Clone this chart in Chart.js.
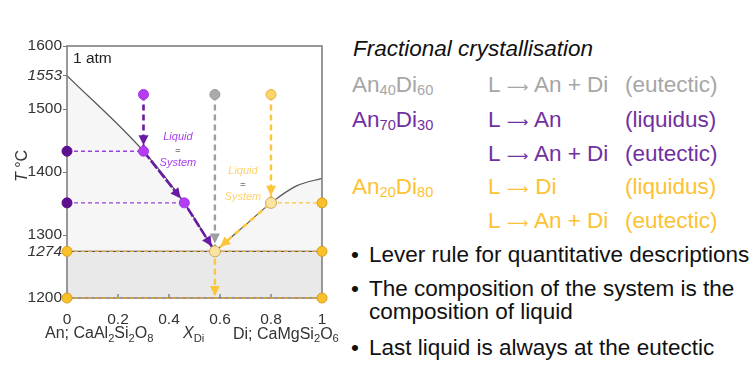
<!DOCTYPE html>
<html>
<head>
<meta charset="utf-8">
<script src="https://cdn.jsdelivr.net/npm/chart.js@4.4.0/dist/chart.umd.min.js"></script>
<style>
  html, body { margin: 0; padding: 0; background: #fff; }
  body { width: 750px; height: 377px; overflow: hidden; position: relative; font-family: "Liberation Sans", Arial, sans-serif; }
  #phase { position: absolute; left: 0; top: 0; }
  .ln { position: absolute; font-size: 22.5px; line-height: 26px; white-space: nowrap; }
  sub { font-size: 0.65em; vertical-align: -0.22em; line-height: 0; }
  .arr { display: inline-block; width: 23px; text-align: center; font-family: "DejaVu Sans", sans-serif; font-size: 15px; overflow: visible; }
  .gray { color: #a6a6a6; }
  .purple { color: #7030a0; }
  .gold { color: #fdc232; }
  .dark { color: #111; }
</style>
</head>
<body>
<canvas id="phase" width="345" height="377"></canvas>

<div class="ln dark" style="left:353px; top:36px; font-style:italic;">Fractional crystallisation</div>

<div class="ln gray" style="left:352px; top:72px;">An<sub>40</sub>Di<sub>60</sub></div>
<div class="ln gray" style="left:488px; top:72px;">L <span class="arr">⟶</span> An + Di</div>
<div class="ln gray" style="left:625px; top:72px;">(eutectic)</div>

<div class="ln purple" style="left:352px; top:107px;">An<sub>70</sub>Di<sub>30</sub></div>
<div class="ln purple" style="left:488px; top:107px;">L <span class="arr">⟶</span> An</div>
<div class="ln purple" style="left:625px; top:107px;">(liquidus)</div>
<div class="ln purple" style="left:488px; top:141px;">L <span class="arr">⟶</span> An + Di</div>
<div class="ln purple" style="left:625px; top:141px;">(eutectic)</div>

<div class="ln gold" style="left:352px; top:174px;">An<sub>20</sub>Di<sub>80</sub></div>
<div class="ln gold" style="left:488px; top:174px;">L <span class="arr">⟶</span> Di</div>
<div class="ln gold" style="left:625px; top:174px;">(liquidus)</div>
<div class="ln gold" style="left:488px; top:208px;">L <span class="arr">⟶</span> An + Di</div>
<div class="ln gold" style="left:625px; top:208px;">(eutectic)</div>

<div class="ln dark" style="left:351px; top:242px;">•</div>
<div class="ln dark" style="left:369px; top:242px;">Lever rule for quantitative descriptions</div>
<div class="ln dark" style="left:351px; top:276px;">•</div>
<div class="ln dark" style="left:369px; top:276px;">The composition of the system is the</div>
<div class="ln dark" style="left:369px; top:299px;">composition of liquid</div>
<div class="ln dark" style="left:351px; top:335px;">•</div>
<div class="ln dark" style="left:369px; top:335px;">Last liquid is always at the eutectic</div>

<script>
const xTicks = [0, 0.2, 0.4, 0.6, 0.8, 1];
const yTicks = [1200, 1274, 1300, 1400, 1500, 1553, 1600];
const italicTicks = [1274, 1553];

// liquidus curves (X_Di, T)
const anLiqX = [0, 0.3, 0.46, 0.58];
const anLiqT = [1553, 1433, 1351, 1274];
const diLiqX = [0.58, 0.7, 0.8, 0.9, 1];
const diLiqT = [1274, 1316, 1351, 1378, 1390];
const eutecticT = 1274;

// cooling paths
const purpleX = [0.3, 0.3, 0.46, 0.58];
const purpleT = [1523, 1433, 1351, 1274];
const grayX = [0.58, 0.58];
const grayT = [1523, 1274];
const goldX = [0.8, 0.8, 0.58, 0.58];
const goldT = [1523, 1351, 1274, 1200];

// tie lines out to the axes
const purpleTieX = [0.3, 0.46];
const purpleTieT = [1433, 1351];
const goldTieX0 = [0.8, 0, 0];
const goldTieT = [1351, 1274, 1200];

// text labels on the plot
const labelPurple = { x: 0.435, t: 1433 };
const labelGold = { x: 0.69, t: 1379 };

const FONT = '"Liberation Sans", Arial, sans-serif';
const pts = (xs, ys) => xs.map((x, i) => ({ x: x, y: ys[i] }));

function dots(data, bg, border, r) {
  return { data: data, showLine: false, pointRadius: r || 5, pointBackgroundColor: bg,
           pointBorderColor: border || bg, pointBorderWidth: 1, clip: false };
}
function line(data, color, width, dash, extra) {
  return Object.assign({ data: data, showLine: true, pointRadius: 0, borderColor: color,
           borderWidth: width, borderDash: dash || [], fill: false, clip: false }, extra || {});
}

const datasets = [];
// dots (top-most)
datasets.push(dots([{ x: goldX[1], y: goldT[1] }, { x: goldX[2], y: goldT[2] }], '#fbe3a0', '#c9ab62', 5.5));
datasets.push(dots(goldTieT.flatMap((t, i) => goldTieX0[i] === 0 ? [{ x: 0, y: t }, { x: 1, y: t }] : [{ x: 1, y: t }]), '#f9c02a', '#d89f1c'));
datasets.push(dots([{ x: goldX[0], y: goldT[0] }], '#fdd56a', '#e0b23c'));
datasets.push(dots([{ x: grayX[0], y: grayT[0] }], '#ababab', '#999999'));
datasets.push(dots(pts(purpleX.slice(0, 3), purpleT.slice(0, 3)), '#b43cf5', '#a533e6'));
datasets.push(dots(purpleTieT.map(t => ({ x: 0, y: t })), '#5c0f8e'));

// cooling paths with arrows
datasets.push(line(pts(purpleX, purpleT), '#6a1aa2', 2.6, [10, 2], {
  segment: { borderDash: c => c.p0DataIndex === 0 ? [6, 4] : undefined },
  arrowGaps: [6, 6, 6]
}));
datasets.push(line(pts(grayX, grayT), '#9e9e9e', 2.4, [6, 4], { arrowGaps: [8] }));
datasets.push(line(pts(goldX, goldT), '#fcc53a', 2.4, [6, 4], { arrowGaps: [7, 7, 2] }));

// tie lines
purpleTieT.forEach((t, i) => datasets.push(line([{ x: 0, y: t }, { x: purpleTieX[i], y: t }], '#9b40d8', 1.4, [4, 3])));
goldTieT.forEach((t, i) => datasets.push(line([{ x: goldTieX0[i], y: t }, { x: 1, y: t }], i === 0 ? '#f9c73d' : '#e0a53c', 1.4, [4, 3])));

// eutectic band and liquidus fields (bottom-most)
datasets.push(line([{ x: 0, y: eutecticT }, { x: 1, y: eutecticT }], '#5a5a5a', 1.3, [], {
  fill: 'start', backgroundColor: '#e9e9e9', clip: undefined, drawFrame: true
}));
datasets.push(line(pts(diLiqX, diLiqT), '#555555', 1.2, [], {
  fill: 'start', backgroundColor: '#f6f6f6', cubicInterpolationMode: 'monotone', clip: undefined
}));
datasets.push(line(pts(anLiqX, anLiqT), '#555555', 1.2, [], {
  fill: 'start', backgroundColor: '#f6f6f6', cubicInterpolationMode: 'monotone', clip: undefined
}));

const arrowHeads = {
  id: 'arrowHeads',
  afterDatasetDraw(chart, args) {
    const ds = chart.data.datasets[args.index];
    const ctx = chart.ctx;
    if (ds.drawFrame) {
      const a = chart.chartArea;
      ctx.save();
      ctx.strokeStyle = '#808080';
      ctx.lineWidth = 1.6;
      ctx.strokeRect(a.left, a.top, a.right - a.left, a.bottom - a.top);
      ctx.strokeStyle = '#555';
      ctx.lineWidth = 1;
      xTicks.slice(1, -1).forEach(v => {
        const px = chart.scales.x.getPixelForValue(v);
        ctx.beginPath(); ctx.moveTo(px, a.bottom); ctx.lineTo(px, a.bottom - 4); ctx.stroke();
      });
      ctx.restore();
    }
    if (!ds.arrowGaps) return;
    const p = args.meta.data;
    ctx.save();
    ctx.fillStyle = ds.borderColor;
    for (let i = 1; i < p.length; i++) {
      const gap = ds.arrowGaps[i - 1];
      if (gap == null) continue;
      const dx = p[i].x - p[i - 1].x, dy = p[i].y - p[i - 1].y;
      const len = Math.hypot(dx, dy);
      const ux = dx / len, uy = dy / len;
      const tx = p[i].x - ux * gap, ty = p[i].y - uy * gap;
      const L = 10, W = 5;
      ctx.beginPath();
      ctx.moveTo(tx, ty);
      ctx.lineTo(tx - ux * L - uy * W, ty - uy * L + ux * W);
      ctx.lineTo(tx - ux * L + uy * W, ty - uy * L - ux * W);
      ctx.closePath();
      ctx.fill();
    }
    ctx.restore();
  }
};

function richText(ctx, runs, x, y, size, align) {
  const fontOf = k => (k.includes('i') ? 'italic ' : '') + (k.includes('s') ? size * 0.7 : size) + 'px ' + FONT;
  let w = 0;
  runs.forEach(r => { ctx.font = fontOf(r[1]); w += ctx.measureText(r[0]).width; });
  let cx = align === 'center' ? x - w / 2 : x;
  ctx.textAlign = 'left';
  ctx.textBaseline = 'alphabetic';
  runs.forEach(r => {
    ctx.font = fontOf(r[1]);
    ctx.fillText(r[0], cx, r[1].includes('s') ? y + size * 0.22 : y);
    cx += ctx.measureText(r[0]).width;
  });
}

function liquidLabel(ctx, chart, lab, color) {
  const x = chart.scales.x.getPixelForValue(lab.x);
  const y = chart.scales.y.getPixelForValue(lab.t);
  ctx.fillStyle = color;
  ctx.font = 'italic 11px ' + FONT;
  ctx.textAlign = 'center';
  ctx.textBaseline = 'middle';
  ctx.fillText('Liquid', x, y - 14);
  ctx.fillText('System', x, y + 12);
  ctx.fillStyle = '#8a8a8a';
  ctx.font = 'bold 9px ' + FONT;
  ctx.fillText('=', x, y);
}

const plotText = {
  id: 'plotText',
  afterDraw(chart) {
    const ctx = chart.ctx;
    ctx.save();
    ctx.fillStyle = '#222';
    richText(ctx, [['1 atm', '']], 73, 63, 15.5, 'left');
    liquidLabel(ctx, chart, labelPurple, '#a63ff0');
    liquidLabel(ctx, chart, labelGold, '#fdd36e');
    ctx.fillStyle = '#333';
    richText(ctx, [['An; CaAl', ''], ['2', 's'], ['Si', ''], ['2', 's'], ['O', ''], ['8', 's']], 45, 338, 16, 'left');
    richText(ctx, [['X', 'i'], ['Di', 's']], 183, 338, 16, 'left');
    richText(ctx, [['Di; CaMgSi', ''], ['2', 's'], ['O', ''], ['6', 's']], 233, 338.5, 16, 'left');
    ctx.translate(27, 166);
    ctx.rotate(-Math.PI / 2);
    richText(ctx, [['T', 'i'], [' °C', '']], 0, 0, 16, 'center');
    ctx.restore();
  }
};

new Chart(document.getElementById('phase'), {
  type: 'scatter',
  data: { datasets: datasets },
  plugins: [arrowHeads, plotText],
  options: {
    responsive: false,
    animation: false,
    events: [],
    layout: { padding: { top: 46, right: 23, left: 0, bottom: 0 } },
    plugins: { legend: { display: false }, tooltip: { enabled: false } },
    scales: {
      x: {
        type: 'linear', min: 0, max: 1,
        afterBuildTicks: s => { s.ticks = xTicks.map(v => ({ value: v })); },
        afterFit: s => { s.height = 79; },
        grid: { display: false },
        border: { display: false },
        ticks: { callback: v => String(v), color: '#333', font: { family: FONT, size: 15.5 }, padding: 4, maxRotation: 0, autoSkip: false }
      },
      y: {
        type: 'linear', min: 1200, max: 1600,
        afterBuildTicks: s => { s.ticks = yTicks.map(v => ({ value: v })); },
        afterFit: s => { s.width = 67; },
        grid: { drawOnChartArea: false, drawTicks: true, tickLength: 4, color: '#777' },
        border: { display: false },
        ticks: {
          callback: v => String(v), color: '#333', padding: 1, autoSkip: false,
          font: c => ({ family: FONT, size: 15.5, style: c.tick && italicTicks.includes(c.tick.value) ? 'italic' : 'normal' })
        }
      }
    }
  }
});
</script>
</body>
</html>
